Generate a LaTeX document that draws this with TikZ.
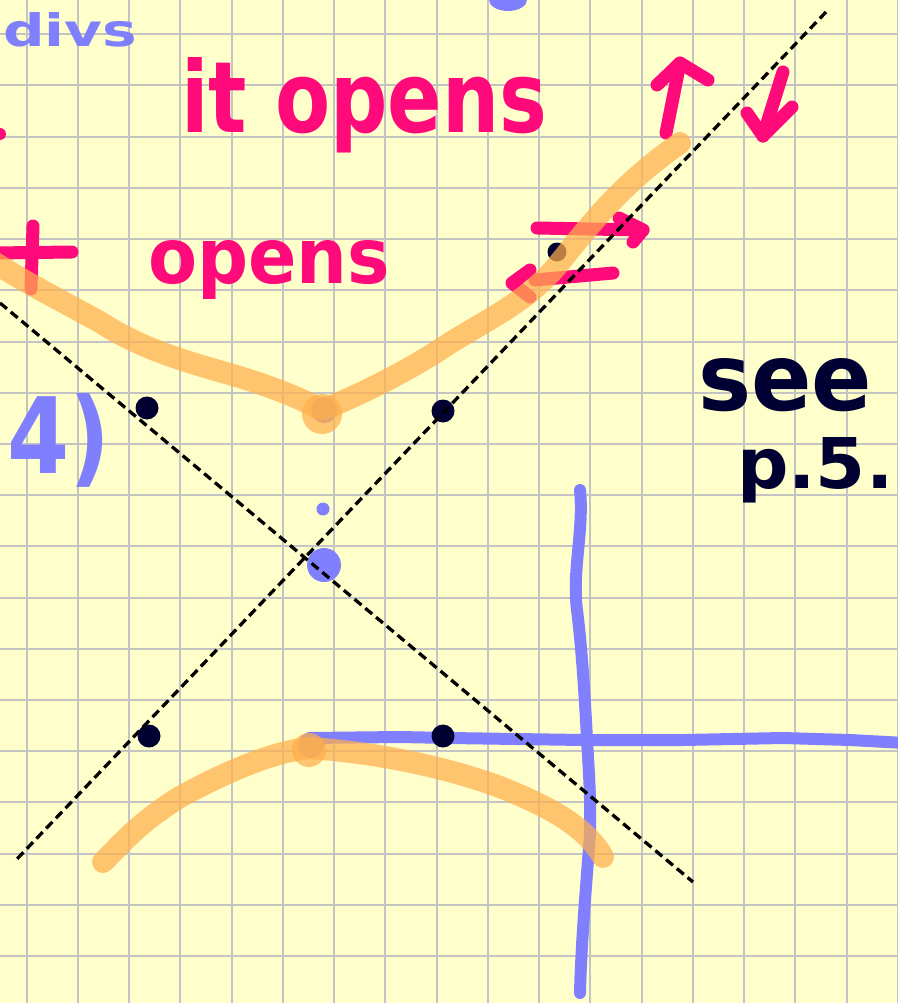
\documentclass[tikz,border=0pt]{standalone}
\usepackage{fontspec}
\setmainfont{DejaVu Sans}
\usepackage{graphicx}
\definecolor{paper}{HTML}{FFFFCC}
\definecolor{gridc}{HTML}{C4C4C4}
\definecolor{pinkink}{HTML}{FF0A7A}
\definecolor{orangehl}{HTML}{FFB04A}
\definecolor{blueink}{HTML}{8080FF}
\definecolor{darkink}{HTML}{000033}
\begin{document}
\begin{tikzpicture}[x=1pt,y=-1pt,
  gridline/.style={gridc, line width=2pt},
  pinkstroke/.style={pinkink, line width=13pt, line cap=round, line join=round},
  hilite/.style={orangehl, opacity=0.72, line width=22pt, line cap=round, line join=round},
  hiliteblob/.style={fill=orangehl, opacity=0.72},
  bluestroke/.style={blueink, line width=12pt, line cap=round, line join=round},
  asym/.style={black, line width=3.3pt, dash pattern=on 9pt off 5pt},
  inkdot/.style={circle, fill=darkink, inner sep=0pt, minimum size=23pt},
  bluedot/.style={circle, fill=blueink, inner sep=0pt},
  txt/.style={inner sep=0pt, anchor=base west}]
\useasboundingbox (0,0) rectangle (897,1003);
\fill[paper] (0,0) rectangle (897,1003);
% grid
\foreach \k in {0,...,17} { \draw[gridline] ({26.7+51.25*\k},0) -- ({26.7+51.25*\k},1003); }
\foreach \k in {0,...,19} { \draw[gridline] (0,{34.3+51.2*\k}) -- (897,{34.3+51.2*\k}); }

% blue strokes
\fill[blueink] (508,0) ellipse (19pt and 11pt);
\draw[bluestroke] (580,490) .. controls (584,530) and (572,570) .. (577,610) .. controls (582,650) and (585,700) .. (587,740) .. controls (590,790) and (592,820) .. (588,860) .. controls (585,900) and (581,950) .. (580,993);
\draw[bluestroke] (310,738) -- (400,737) -- (450,738) -- (583,740) -- (683,740) -- (783,738) -- (850,740) -- (905,743);
\node[bluedot, minimum size=26pt] (vtxlo) at (311,745) {};
\node[bluedot, minimum size=26pt] (vtxup) at (324,410) {};
\node[bluedot, minimum size=34pt] (centre) at (324,565) {};
\node[bluedot, minimum size=13pt] (smalldot) at (323,509) {};

% blue text
\node[txt, text=blueink] (divs) at (3,47) {\resizebox{134pt}{34pt}{\bfseries divs}};
\node[txt, text=blueink] (four) at (7,473) {\resizebox{103pt}{80pt}{\bfseries 4)}};

% pink text and marks
\fill[pinkink] (0,134) circle (6pt);
\draw[pinkstroke] (33,226) -- (31,289);
\draw[pinkstroke] (-5,253) -- (72,252);
\node[txt, text=pinkink] (itopens) at (181,133) {\resizebox{366pt}{75pt}{\bfseries it opens}};
\node[txt, text=pinkink] (opens) at (148,283) {\resizebox{242pt}{43pt}{\bfseries opens}};
% up and down arrows
\draw[pinkstroke] (666,133) -- (680,63);
\draw[pinkstroke] (657,85) -- (680,63) -- (708,80);
\draw[pinkstroke] (783,72) -- (763,136);
\draw[pinkstroke] (747,113) -- (763,136) -- (792,107);
% left/right arrows
\draw[pinkstroke] (537,228) -- (643,230);
\draw[pinkstroke] (619,218) -- (643,230) -- (633,242);
\draw[pinkstroke] (613,273) -- (535,280);
\draw[pinkstroke] (530,270) -- (512,283) -- (530,297);

% black text and dots
\node[txt, text=darkink] (see) at (698,410) {\resizebox{174pt}{52pt}{\bfseries see}};
\node[txt, text=darkink] (page) at (737,488) {\resizebox{156pt}{51pt}{\bfseries p.5.}};
\node[inkdot, minimum size=19pt] (d0) at (557,252) {};
\node[inkdot] (d1) at (147,408) {};
\node[inkdot] (d2) at (443,411) {};
\node[inkdot] (d3) at (149,736) {};
\node[inkdot] (d4) at (443,736) {};

% orange highlighter branches
\draw[hilite] (-5,263) .. controls (30,285) and (60,300) .. (100,322)
  .. controls (140,348) and (180,360) .. (233,375)
  .. controls (270,386) and (300,398) .. (322,410)
  .. controls (360,395) and (410,370) .. (450,343)
  .. controls (490,318) and (530,300) .. (560,262)
  .. controls (590,225) and (620,185) .. (680,143);
\fill[hiliteblob] (322,414) circle (20pt);
\draw[hilite] (103,862) .. controls (125,840) and (140,822) .. (180,797)
  .. controls (220,775) and (270,752) .. (309,748)
  .. controls (370,752) and (440,765) .. (500,787)
  .. controls (545,805) and (585,825) .. (603,857);
\fill[hiliteblob] (309,750) circle (17pt);

% asymptotes
\draw[asym] (826,12) -- (16,860);
\draw[asym] (0,303) -- (693,882);
\end{tikzpicture}
\end{document}
